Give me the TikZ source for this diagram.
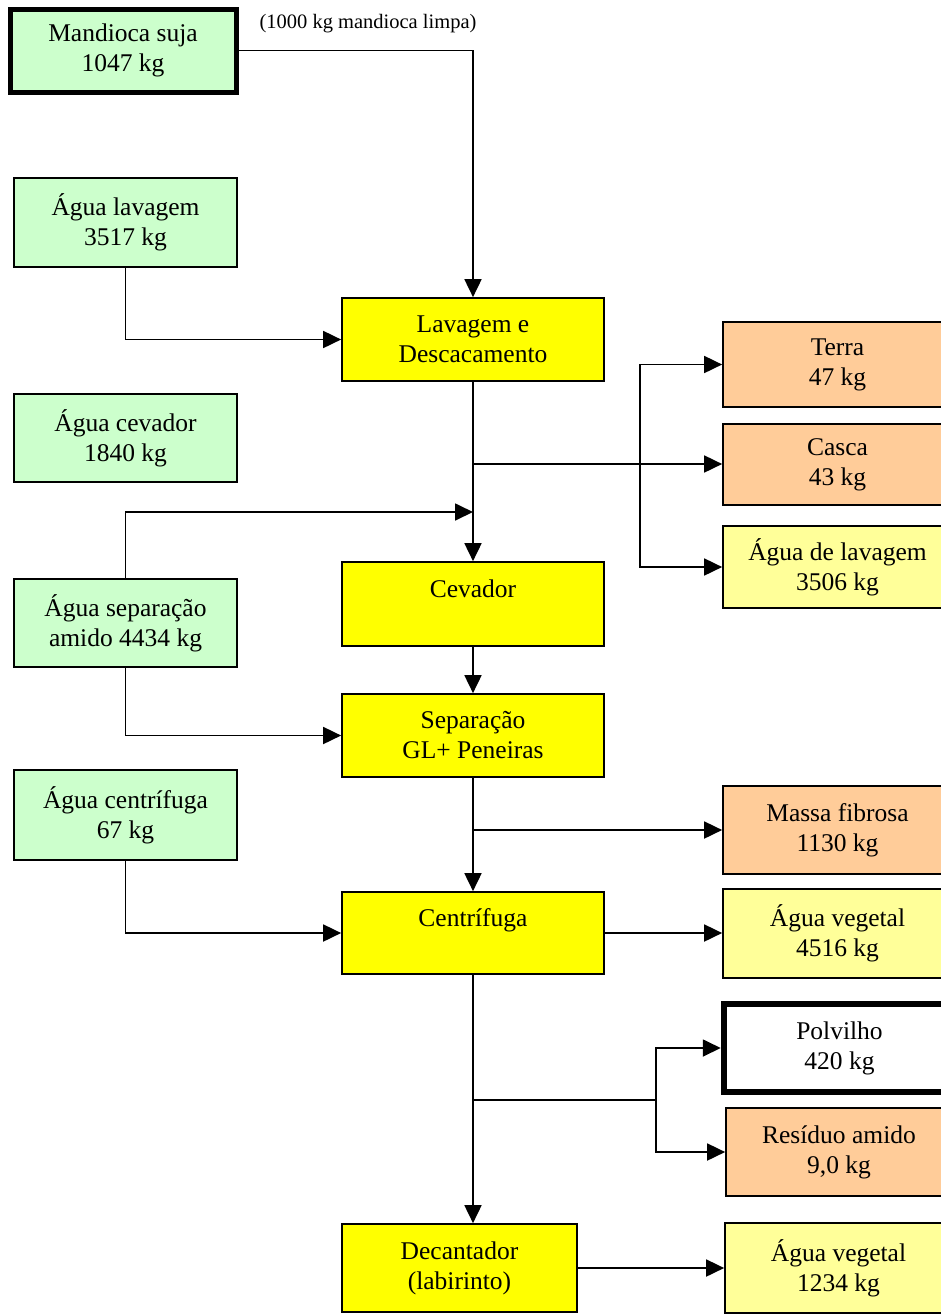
\documentclass[tikz,border=0pt]{standalone}
\usepackage{fontspec}
\setmainfont{Liberation Serif}
\usetikzlibrary{arrows.meta,calc}

\definecolor{feedgreen}{HTML}{CCFFCC}
\definecolor{stepyellow}{HTML}{FFFF00}
\definecolor{wasteorange}{HTML}{FFCC99}
\definecolor{waterpale}{HTML}{FFFF99}

% box by its corners: name, x1, y1, x2, y2, style, text
\newcommand{\flowbox}[7]{%
  \node[box,#6,minimum width={#4pt-#2pt},minimum height={#5pt-#3pt}]
    (#1) at ({(#2+#4)/2},{(#3+#5)/2}) {#7};}

\begin{document}
\begin{tikzpicture}[x=1pt,y=-1pt,
  box/.style={draw,line width=1.7pt,align=center,inner sep=0pt,
    font=\fontsize{25.5}{30}\selectfont},
  feed/.style={fill=feedgreen},
  stage/.style={fill=stepyellow},
  waste/.style={fill=wasteorange},
  water/.style={fill=waterpale},
  heavy/.style={line width=5pt},
  pipe/.style={line width=1.8pt},
  flow/.style={line width=1.8pt,-{Triangle[length=18pt,width=17pt]}}]

\clip (0,0) rectangle (941,1315);

% inputs
\flowbox{ms}{10}{9}{236}{92}{feed,heavy}{Mandioca suja\\1047 kg}
\flowbox{alav}{14}{178}{237}{267}{feed}{Água lavagem\\3517 kg}
\flowbox{acev}{14}{394}{237}{482}{feed}{Água cevador\\1840 kg}
\flowbox{asep}{14}{579}{237}{667}{feed}{Água separação\\amido 4434 kg}
\flowbox{acen}{14}{770}{237}{860}{feed}{Água centrífuga\\67 kg}

% process stages
\flowbox{lav}{342}{298}{604}{381}{stage}{Lavagem e\\Descacamento}
\flowbox{cev}{342}{562}{604}{646}{stage}{Cevador\\\mbox{}}
\flowbox{sep}{342}{694}{604}{777}{stage}{Separação\\GL+ Peneiras}
\flowbox{cen}{342}{892}{604}{974}{stage}{Centrífuga\\\mbox{}}
\flowbox{dec}{342}{1224}{577}{1312}{stage}{Decantador\\(labirinto)}

% outputs
\flowbox{terra}{723}{322}{952}{407}{waste}{Terra\\47 kg}
\flowbox{casca}{723}{424}{952}{505}{waste}{Casca\\43 kg}
\flowbox{alavo}{723}{526}{952}{608}{water}{Água de lavagem\\3506 kg}
\flowbox{mf}{723}{786}{952}{874}{waste}{Massa fibrosa\\1130 kg}
\flowbox{av1}{723}{889}{952}{978}{water}{Água vegetal\\4516 kg}
\flowbox{pol}{724}{1004}{955}{1092}{fill=white,line width=6.5pt}{Polvilho\\420 kg}
\flowbox{res}{726}{1108}{952}{1196}{waste}{Resíduo amido\\9,0 kg}
\flowbox{av2}{725}{1223}{952}{1313}{water}{Água vegetal\\1234 kg}

\node[font=\fontsize{20.5}{24}\selectfont] (note) at (368,24) {(1000 kg mandioca limpa)};

% junction points
\coordinate (j1) at (640,464);
\coordinate (m1) at (473,512);
\coordinate (j2) at (656,1100);

% washing
\draw[flow] (ms.east) -| (lav.north);
\draw[flow] (alav.south) |- (lav.west);
\draw[flow] (lav.south) -- (cev.north);
\draw[flow] (lav.south |- j1) -- (j1 -| casca.west);
\draw[flow] (j1) |- (terra.west);
\draw[flow] (j1) |- (alavo.west);
\draw[flow] (asep.north) |- (m1);

% separation and centrifuge
\draw[flow] (asep.south) |- (sep.west);
\draw[flow] (cev.south) -- (sep.north);
\draw[flow] (sep.south) -- (cen.north);
\draw[flow] (sep.south |- mf.west) -- (mf.west);
\draw[flow] (acen.south) |- (cen.west);
\draw[flow] (cen.east) -- (cen.east -| av1.west);

% decanting
\draw[flow] (cen.south) -- (cen.south |- dec.north);
\draw[pipe] (cen.south |- j2) -- (j2);
\draw[flow] (j2) |- (pol.west);
\draw[flow] (j2) |- (res.west);
\draw[flow] (dec.east) -- (dec.east -| av2.west);
\end{tikzpicture}
\end{document}
